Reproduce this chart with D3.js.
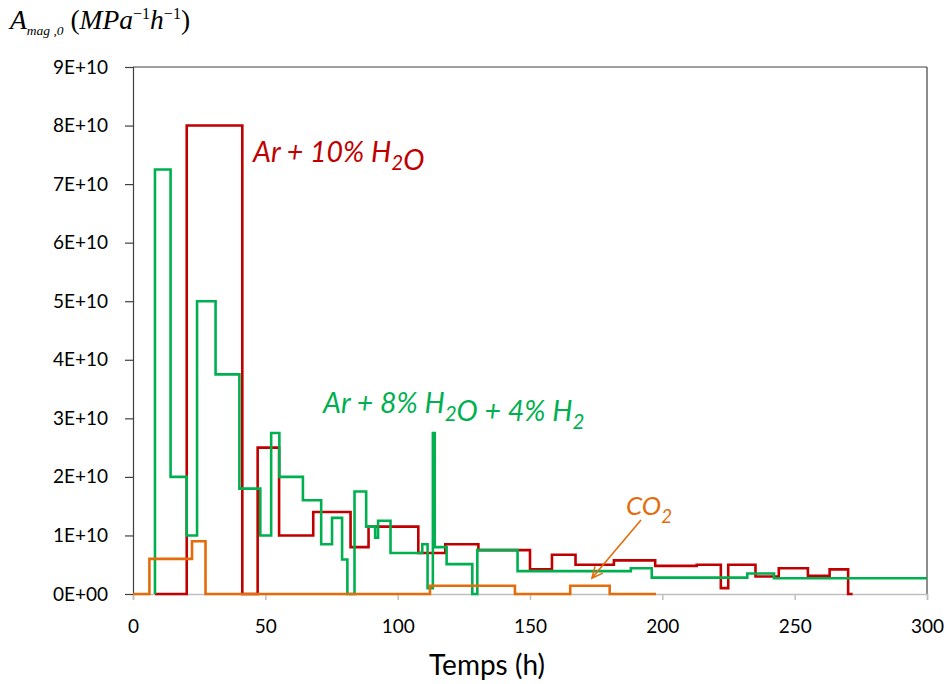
<!DOCTYPE html>
<html><head><meta charset="utf-8">
<script src="https://cdn.jsdelivr.net/npm/d3@7"></script>
<style>
body{margin:0;background:#fff;}
svg{display:block;}
</style></head>
<body>
<svg id="chart" width="949" height="684"></svg>
<script>
// ---- Data ----
const xTicks = [0, 50, 100, 150, 200, 250, 300];
const yTicks = [0, 1e10, 2e10, 3e10, 4e10, 5e10, 6e10, 7e10, 8e10, 9e10];
const yTickLabels = ["0E+00","1E+10","2E+10","3E+10","4E+10","5E+10","6E+10","7E+10","8E+10","9E+10"];

// Ar + 10% H2O (step after)
const redTime  = [8.3, 20.3, 41.3, 47.1, 55.2, 68.1, 82.2, 89.0, 107.8, 118.0, 130.5, 150.0, 158.3, 167.2, 181.7, 197.3, 213.0, 222.1, 224.9, 235.2, 244.0, 255.0, 263.2, 270.2, 271.9];
const redValue = [0, 8e10, 0, 2.5e10, 1e10, 1.4e10, 0.8e10, 1.15e10, 0.7e10, 0.85e10, 0.75e10, 0.42e10, 0.67e10, 0.5e10, 0.575e10, 0.48e10, 0.5e10, 0.1e10, 0.5e10, 0.3e10, 0.44e10, 0.31e10, 0.42e10, 0, 0];

// Ar + 8% H2O + 4% H2
const greenTime  = [8.3, 8.3, 14.2, 20.3, 24.2, 31.2, 40.2, 48.1, 52.2, 55.3, 64.2, 71.1, 75.2, 79.0, 81.0, 83.7, 88.1, 91.5, 92.6, 97.3, 109.3, 111.3, 113.3, 114.0, 118.5, 128.2, 130.1, 145.3, 188.1, 196.0, 232.1, 242.2, 300];
const greenValue = [0, 7.25e10, 2e10, 1e10, 5e10, 3.75e10, 1.8e10, 1e10, 2.75e10, 2e10, 1.6e10, 0.85e10, 1.3e10, 0.59e10, 0, 1.75e10, 1.15e10, 0.96e10, 1.25e10, 0.7e10, 0.85e10, 0.1e10, 2.75e10, 0.8e10, 0.51e10, 0, 0.75e10, 0.39e10, 0.44e10, 0.28e10, 0.35e10, 0.27e10, 0.27e10];

// CO2
const orangeTime  = [0, 6.2, 22.3, 27.4, 112.2, 144.3, 165.2, 180.1, 197.6];
const orangeValue = [0, 0.6e10, 0.9e10, 0, 0.14e10, 0, 0.14e10, 0, 0];

const seriesColors = {red: "#C00000", green: "#00B050", orange: "#E46C0A"};

// ---- Layout ----
const svg = d3.select("#chart");
const x = d3.scaleLinear().domain([0, 300]).range([133, 927]);
const y = d3.scaleLinear().domain([0, 9e10]).range([594, 67]);

const tickFont = "Lato, 'Open Sans', sans-serif";

// plot border top & right
svg.append("line").attr("x1", x(0)).attr("x2", x(300)).attr("y1", y(9e10)).attr("y2", y(9e10))
  .attr("stroke", "#404040").attr("stroke-width", 1.2);
svg.append("line").attr("x1", x(300)).attr("x2", x(300)).attr("y1", y(9e10)).attr("y2", y(0))
  .attr("stroke", "#404040").attr("stroke-width", 1.2);

// x axis (light grey)
const xAxis = d3.axisBottom(x).tickValues(xTicks).tickSize(6).tickPadding(20).tickFormat(d3.format("d"));
const gx = svg.append("g").attr("transform", `translate(0,${y(0)})`).call(xAxis);
gx.select(".domain").attr("stroke", "#BFBFBF").attr("stroke-width", 1.5);
gx.selectAll(".tick line").attr("stroke", "#BFBFBF").attr("stroke-width", 1.5);
gx.selectAll(".tick text").attr("font-family", tickFont).attr("font-size", 19).attr("fill", "#000");

// y axis (dark)
const yAxis = d3.axisLeft(y).tickValues(yTicks).tickSize(8).tickPadding(17)
  .tickFormat((d, i) => yTickLabels[i]);
const gy = svg.append("g").attr("transform", `translate(${x(0)},0)`).call(yAxis);
gy.select(".domain").attr("stroke", "#404040").attr("stroke-width", 1.2);
gy.selectAll(".tick line").attr("stroke", "#404040").attr("stroke-width", 1.2);
gy.selectAll(".tick text").attr("font-family", tickFont).attr("font-size", 19).attr("fill", "#000");

// ---- Series ----
const line = d3.line().x(d => x(d[0])).y(d => y(d[1])).curve(d3.curveStepAfter);
function drawSeries(times, values, color) {
  const pts = times.map((t, i) => [t, values[i]]);
  svg.append("path").datum(pts).attr("d", line)
    .attr("fill", "none").attr("stroke", color).attr("stroke-width", 2.6)
    .attr("stroke-linejoin", "miter");
}
drawSeries(redTime, redValue, seriesColors.red);
drawSeries(greenTime, greenValue, seriesColors.green);
drawSeries(orangeTime, orangeValue, seriesColors.orange);

// ---- Annotations ----
const labFont = "Lato, 'Open Sans', sans-serif";
function subLabel(xp, yp, parts, color, size) {
  const t = svg.append("text").attr("x", xp).attr("y", yp)
    .attr("font-family", labFont).attr("font-style", "italic").attr("font-size", size)
    .attr("fill", color);
  parts.forEach(p => {
    if (p.sub) {
      t.append("tspan").attr("dy", 8).attr("font-size", size * 0.72).text(p.t);
      t.append("tspan").attr("dy", -8).text("");
    } else {
      t.append("tspan").text(p.t);
    }
  });
  return t;
}
subLabel(253, 162, [{t: "Ar + 10% H"}, {t: "2", sub: true}, {t: "O"}], seriesColors.red, 28.5);
subLabel(323, 413, [{t: "Ar + 8% H"}, {t: "2", sub: true}, {t: "O + 4% H"}, {t: "2", sub: true}], seriesColors.green, 28.5);
subLabel(626, 515, [{t: "CO"}, {t: "2", sub: true}], seriesColors.orange, 26);

// arrow for CO2
const ax1 = 641, ay1 = 520, ax2 = 592, ay2 = 578;
svg.append("line").attr("x1", ax1).attr("y1", ay1).attr("x2", ax2).attr("y2", ay2)
  .attr("stroke", seriesColors.orange).attr("stroke-width", 1.6);
{
  const ang = Math.atan2(ay2 - ay1, ax2 - ax1);
  const L = 12, spread = 0.45;
  const p1 = [ax2 - L * Math.cos(ang - spread), ay2 - L * Math.sin(ang - spread)];
  const p2 = [ax2 - L * Math.cos(ang + spread), ay2 - L * Math.sin(ang + spread)];
  svg.append("path").attr("d", `M${p1[0]},${p1[1]}L${ax2},${ay2}L${p2[0]},${p2[1]}`)
    .attr("fill", "none").attr("stroke", seriesColors.orange).attr("stroke-width", 1.6);
}

// ---- Axis titles ----
svg.append("text").attr("x", 487).attr("y", 675).attr("text-anchor", "middle")
  .attr("font-family", tickFont).attr("font-size", 28).attr("fill", "#000").text("Temps (h)");

const yt = svg.append("text").attr("x", 10).attr("y", 29)
  .attr("font-family", "'Liberation Serif', 'DejaVu Serif', serif").attr("font-size", 27.5).attr("fill", "#000");
yt.append("tspan").attr("font-style", "italic").text("A");
yt.append("tspan").attr("font-style", "italic").attr("font-size", 13.5).attr("dy", 6).text("mag ,0");
yt.append("tspan").attr("dy", -6).text(" (");
yt.append("tspan").attr("font-style", "italic").text("MPa");
yt.append("tspan").attr("font-size", 16).attr("dy", -10).text("−1");
yt.append("tspan").attr("font-style", "italic").attr("dy", 10).text("h");
yt.append("tspan").attr("font-size", 16).attr("dy", -10).text("−1");
yt.append("tspan").attr("dy", 10).text(")");
</script>
</body></html>
